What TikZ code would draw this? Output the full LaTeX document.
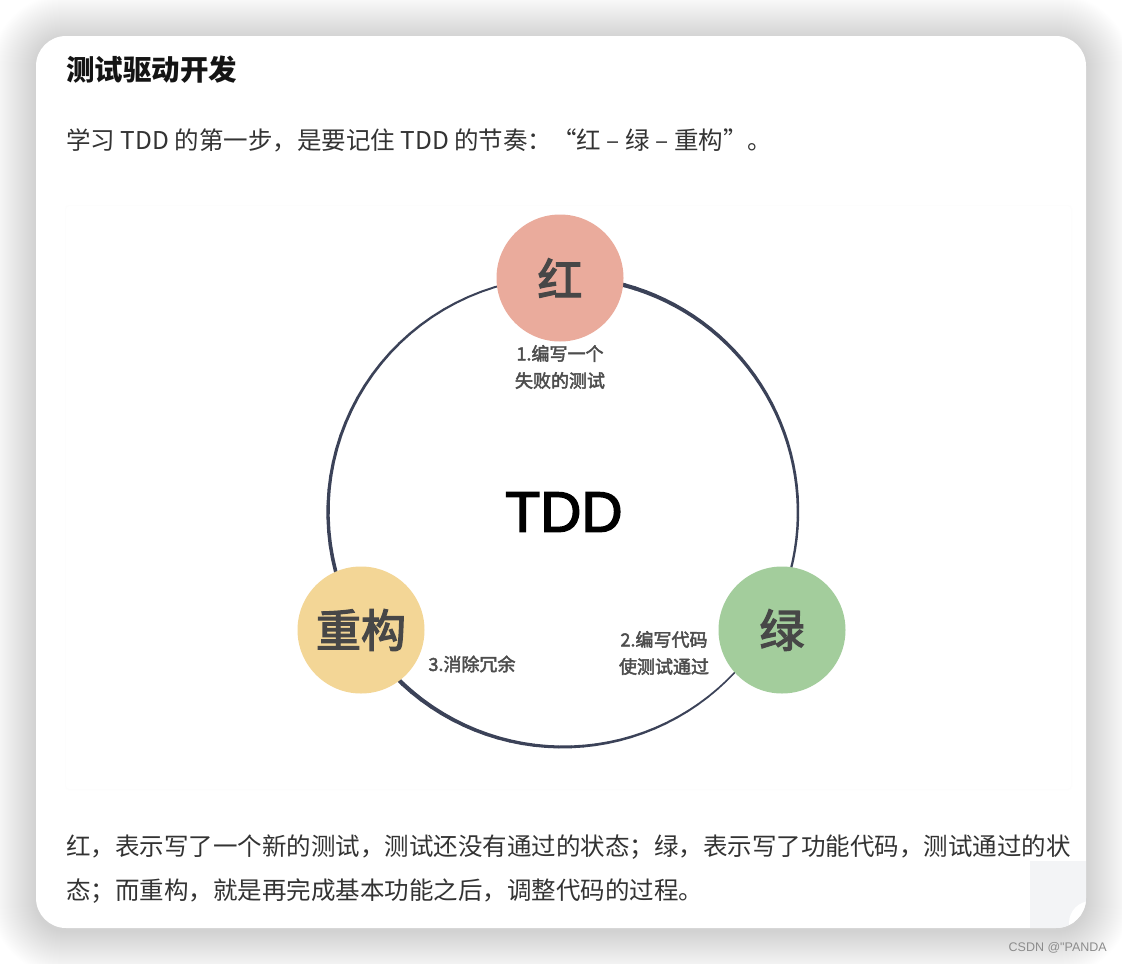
\documentclass[tikz,border=0pt]{standalone}
\usepackage{fontspec}
\setmainfont{Noto Sans CJK SC}
\newfontfamily\latinf{Liberation Sans}
\newfontfamily\latinmed{Liberation Sans}[FakeBold=2.5]
\newfontfamily\cjkmed{Noto Sans CJK SC}[FakeBold=3]
\newfontfamily\cjklab{Noto Sans CJK SC}[FakeBold=2.5]
\definecolor{redc}{HTML}{EAAB9C}
\definecolor{greenc}{HTML}{A3CD9C}
\definecolor{yellowc}{HTML}{F3D696}
\definecolor{arcc}{HTML}{3B4258}
\definecolor{bodyc}{HTML}{333333}
\definecolor{stagetxt}{HTML}{474747}
\definecolor{labc}{HTML}{4D4D4D}
\definecolor{curlc}{HTML}{F3F4F6}
\tikzset{
  stage/.style={circle, minimum size=127pt, inner sep=0pt, text=stagetxt,
    font=\cjkmed\fontsize{45}{45}\selectfont},
  lab/.style={text=labc, inner sep=0pt, align=center,
    font=\cjklab\fontsize{18}{27}\selectfont},
  body/.style={anchor=west, inner sep=0pt, text=bodyc,
    font=\fontsize{24.5}{30}\selectfont},
}
\begin{document}
\begin{tikzpicture}[x=1pt,y=-1pt]
\useasboundingbox (0,0) rectangle (1122,964);
\fill[white] (0,0) rectangle (1122,964);
% shadow
\foreach \i in {1,...,45}{
  \fill[black, opacity=0.003, rounded corners=30+\i]
    (36-\i,36-\i+3) rectangle (1086+\i,928+\i+3);
}
% card
\fill[white, rounded corners=30] (36,36) rectangle (1086,928);
\begin{scope}
  \clip[rounded corners=30] (36,36) rectangle (1086,928);
  \fill[curlc] (1030,861) rectangle (1086,928);
  \fill[white] (1091,923) circle[radius=22];
\end{scope}
% faint image frame
\fill[white!99.3!black, rounded corners=4] (65,205) rectangle (1072,790);
\fill[white, rounded corners=3] (66,206) rectangle (1071,789);
% texts
\node[anchor=west, inner sep=0pt, text=black!92, font=\fontsize{28.5}{30}\selectfont\bfseries] (title) at (66,70) {测试驱动开发};
\node[body] (intro) at (66,140) {学习 TDD 的第一步，是要记住 TDD 的节奏：“红 – 绿 – 重构”。};
\node[body] (desc1) at (66,847) {红，表示写了一个新的测试，测试还没有通过的状态；绿，表示写了功能代码，测试通过的状};
\node[body] (desc2) at (66,891) {态；而重构，就是再完成基本功能之后，调整代码的过程。};
\node[anchor=east, inner sep=0pt, text=black!45, font=\latinf\fontsize{12.5}{14}\selectfont] (wm) at (1107,948) {CSDN @"PANDA};
% cycle arcs with tapering width
\foreach \a/\b/\wa/\wb in {-80/25/4.2/2.0, 25/145/1.0/4.6, 145/280/4.0/1.4}{
  \foreach \i in {0,...,39}{
    \pgfmathsetmacro\ta{\a+(\b-\a)*\i/40}
    \pgfmathsetmacro\tb{\a+(\b-\a)*(\i+1)/40}
    \pgfmathsetmacro\w{\wa+(\wb-\wa)*(\i+0.5)/40}
    \draw[arcc, line width=\w pt, line cap=round]
      ({563+235*cos(\ta)},{512+235*sin(\ta)}) -- ({563+235*cos(\tb)},{512+235*sin(\tb)});
  }
}
% stages
\node[stage, fill=redc] (red) at (560,278) {红};
\node[stage, fill=greenc] (green) at (782,630) {绿};
\node[stage, fill=yellowc] (refactor) at (361,630) {重构};
\node[font=\latinmed\fontsize{57}{57}\selectfont, text=black, inner sep=0pt] (tdd) at (564,512) {TDD};
\node[lab] (l1) at (560,367) {1.编写一个\\失败的测试};
\node[lab] (l2) at (664,653) {2.编写代码\\使测试通过};
\node[lab] (l3) at (472,664) {3.消除冗余};
\end{tikzpicture}
\end{document}
